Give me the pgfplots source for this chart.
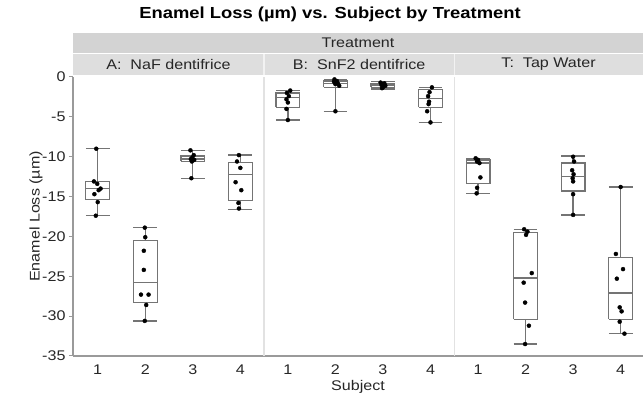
\documentclass[border=0pt]{standalone}
\usepackage{fontspec}
\setmainfont[FakeStretch=1.15]{Liberation Sans}
\usepackage{pgfplots}
\pgfplotsset{compat=1.18}
\definecolor{boxgray}{HTML}{747474}
\definecolor{axgray}{HTML}{9A9A9A}
\definecolor{sepgray}{HTML}{E2E2E2}
\definecolor{stripA}{HTML}{D3D3D3}
\definecolor{stripB}{HTML}{DEDEDE}
\definecolor{txt}{HTML}{262626}
\begin{document}
\begin{tikzpicture}
\useasboundingbox (-73pt,-40pt) rectangle (570pt,356pt);
\begin{axis}[at={(0pt,0pt)}, anchor=south west, scale only axis,
  width=570pt, height=279pt,
  xmin=0.48, xmax=12.47, ymin=-35, ymax=0,
  axis x line*=bottom, axis y line*=left,
  x axis line style={draw=axgray, line width=1.8pt, -},
  y axis line style={draw=axgray, line width=1.2pt, -},
  xtick={1,...,12}, xticklabels={1,2,3,4,1,2,3,4,1,2,3,4},
  ytick={-35,-30,-25,-20,-15,-10,-5,0},
  yticklabels={-35,-30,-25,-20,-15,-10,-5,0},
  x tick style={draw=none},
  y tick style={draw=axgray, line width=1pt},
  tick align=outside, major tick length=4pt,
  tick label style={font=\fontsize{14}{15}\selectfont, text=txt},
  xticklabel style={yshift=-1pt},
  clip=false, unbounded coords=jump,
  every axis plot/.append style={line join=miter},
]
\draw[sepgray, line width=1.5pt] (axis cs:4.5,-35) -- (axis cs:4.5,0);
\draw[sepgray, line width=1.5pt] (axis cs:8.5,-35) -- (axis cs:8.5,0);

% boxes: box, median, upper whisker + cap, lower whisker + cap
% A1: lw -17.4, lq -15.4, med -14.0, uq -13.1, uw -9.0
\addplot[boxgray, line width=1.25pt] coordinates {(0.75,-15.4)(1.25,-15.4)(1.25,-13.1)(0.75,-13.1)(0.75,-15.4) (nan,nan) (0.75,-14.0)(1.25,-14.0) (nan,nan) (1,-13.1)(1,-9.0) (nan,nan) (0.75,-9.0)(1.25,-9.0) (nan,nan) (1,-15.4)(1,-17.4) (nan,nan) (0.75,-17.4)(1.25,-17.4)};
% A2: lw -30.6, lq -28.3, med -25.8, uq -20.5, uw -18.9
\addplot[boxgray, line width=1.25pt] coordinates {(1.75,-28.3)(2.25,-28.3)(2.25,-20.5)(1.75,-20.5)(1.75,-28.3) (nan,nan) (1.75,-25.8)(2.25,-25.8) (nan,nan) (2,-20.5)(2,-18.9) (nan,nan) (1.75,-18.9)(2.25,-18.9) (nan,nan) (2,-28.3)(2,-30.6) (nan,nan) (1.75,-30.6)(2.25,-30.6)};
% A3: lw -12.7, lq -10.6, med -10.3, uq -9.9, uw -9.2
\addplot[boxgray, line width=1.25pt] coordinates {(2.75,-10.6)(3.25,-10.6)(3.25,-9.9)(2.75,-9.9)(2.75,-10.6) (nan,nan) (2.75,-10.3)(3.25,-10.3) (nan,nan) (3,-9.9)(3,-9.2) (nan,nan) (2.75,-9.2)(3.25,-9.2) (nan,nan) (3,-10.6)(3,-12.7) (nan,nan) (2.75,-12.7)(3.25,-12.7)};
% A4: lw -16.6, lq -15.5, med -12.2, uq -10.7, uw -9.8
\addplot[boxgray, line width=1.25pt] coordinates {(3.75,-15.5)(4.25,-15.5)(4.25,-10.7)(3.75,-10.7)(3.75,-15.5) (nan,nan) (3.75,-12.2)(4.25,-12.2) (nan,nan) (4,-10.7)(4,-9.8) (nan,nan) (3.75,-9.8)(4.25,-9.8) (nan,nan) (4,-15.5)(4,-16.6) (nan,nan) (3.75,-16.6)(4.25,-16.6)};
% B1: lw -5.4, lq -3.8, med -2.6, uq -2.0, uw -1.7
\addplot[boxgray, line width=1.25pt] coordinates {(4.75,-3.8)(5.25,-3.8)(5.25,-2.0)(4.75,-2.0)(4.75,-3.8) (nan,nan) (4.75,-2.6)(5.25,-2.6) (nan,nan) (5,-2.0)(5,-1.7) (nan,nan) (4.75,-1.7)(5.25,-1.7) (nan,nan) (5,-3.8)(5,-5.4) (nan,nan) (4.75,-5.4)(5.25,-5.4)};
% B2: lw -4.3, lq -1.3, med -0.8, uq -0.5, uw -0.3
\addplot[boxgray, line width=1.25pt] coordinates {(5.75,-1.3)(6.25,-1.3)(6.25,-0.5)(5.75,-0.5)(5.75,-1.3) (nan,nan) (5.75,-0.8)(6.25,-0.8) (nan,nan) (6,-0.5)(6,-0.3) (nan,nan) (5.75,-0.3)(6.25,-0.3) (nan,nan) (6,-1.3)(6,-4.3) (nan,nan) (5.75,-4.3)(6.25,-4.3)};
% B3: lw -1.5, lq -1.3, med -1.0, uq -0.8, uw -0.6
\addplot[boxgray, line width=1.25pt] coordinates {(6.75,-1.3)(7.25,-1.3)(7.25,-0.8)(6.75,-0.8)(6.75,-1.3) (nan,nan) (6.75,-1.0)(7.25,-1.0) (nan,nan) (7,-0.8)(7,-0.6) (nan,nan) (6.75,-0.6)(7.25,-0.6) (nan,nan) (7,-1.3)(7,-1.5) (nan,nan) (6.75,-1.5)(7.25,-1.5)};
% B4: lw -5.7, lq -3.8, med -2.7, uq -1.6, uw -1.3
\addplot[boxgray, line width=1.25pt] coordinates {(7.75,-3.8)(8.25,-3.8)(8.25,-1.6)(7.75,-1.6)(7.75,-3.8) (nan,nan) (7.75,-2.7)(8.25,-2.7) (nan,nan) (8,-1.6)(8,-1.3) (nan,nan) (7.75,-1.3)(8.25,-1.3) (nan,nan) (8,-3.8)(8,-5.7) (nan,nan) (7.75,-5.7)(8.25,-5.7)};
% T1: lw -14.6, lq -13.4, med -10.8, uq -10.4, uw -10.2
\addplot[boxgray, line width=1.25pt] coordinates {(8.75,-13.4)(9.25,-13.4)(9.25,-10.4)(8.75,-10.4)(8.75,-13.4) (nan,nan) (8.75,-10.8)(9.25,-10.8) (nan,nan) (9,-10.4)(9,-10.2) (nan,nan) (8.75,-10.2)(9.25,-10.2) (nan,nan) (9,-13.4)(9,-14.6) (nan,nan) (8.75,-14.6)(9.25,-14.6)};
% T2: lw -33.5, lq -30.4, med -25.2, uq -19.5, uw -19.1
\addplot[boxgray, line width=1.25pt] coordinates {(9.75,-30.4)(10.25,-30.4)(10.25,-19.5)(9.75,-19.5)(9.75,-30.4) (nan,nan) (9.75,-25.2)(10.25,-25.2) (nan,nan) (10,-19.5)(10,-19.1) (nan,nan) (9.75,-19.1)(10.25,-19.1) (nan,nan) (10,-30.4)(10,-33.5) (nan,nan) (9.75,-33.5)(10.25,-33.5)};
% T3: lw -17.3, lq -14.3, med -12.5, uq -10.8, uw -9.9
\addplot[boxgray, line width=1.25pt] coordinates {(10.75,-14.3)(11.25,-14.3)(11.25,-10.8)(10.75,-10.8)(10.75,-14.3) (nan,nan) (10.75,-12.5)(11.25,-12.5) (nan,nan) (11,-10.8)(11,-9.9) (nan,nan) (10.75,-9.9)(11.25,-9.9) (nan,nan) (11,-14.3)(11,-17.3) (nan,nan) (10.75,-17.3)(11.25,-17.3)};
% T4: lw -32.2, lq -30.4, med -27.1, uq -22.6, uw -13.8
\addplot[boxgray, line width=1.25pt] coordinates {(11.75,-30.4)(12.25,-30.4)(12.25,-22.6)(11.75,-22.6)(11.75,-30.4) (nan,nan) (11.75,-27.1)(12.25,-27.1) (nan,nan) (12,-22.6)(12,-13.8) (nan,nan) (11.75,-13.8)(12.25,-13.8) (nan,nan) (12,-30.4)(12,-32.2) (nan,nan) (11.75,-32.2)(12.25,-32.2)};

% individual points
\addplot[only marks, mark=*, mark size=2pt, black] coordinates {
 (0.97,-9.0) (0.92,-13.1) (0.99,-13.4) (1.06,-14.0) (1.02,-14.2) (0.93,-14.7) (1.00,-15.7) (0.96,-17.4)
 (1.99,-18.9) (2.00,-20.1) (1.97,-21.8) (1.97,-24.2) (1.91,-27.3) (2.07,-27.3) (2.02,-28.6) (1.99,-30.6)
 (2.95,-9.2) (3.02,-9.8) (2.99,-10.1) (2.96,-10.3) (3.03,-10.4) (2.98,-10.6) (2.97,-12.7)
 (3.97,-9.8) (3.93,-10.6) (4.00,-11.4) (3.90,-13.2) (4.02,-14.2) (3.96,-15.8) (3.97,-16.5)
 (5.05,-1.7) (4.98,-2.0) (5.02,-2.4) (4.97,-2.8) (5.00,-3.2) (4.97,-4.0) (5.00,-5.4)
 (5.98,-0.3) (6.03,-0.5) (5.97,-0.6) (6.05,-0.8) (6.00,-0.9) (6.08,-1.1) (6.00,-4.3)
 (6.95,-0.7) (7.03,-0.8) (7.00,-0.9) (6.97,-1.0) (7.05,-1.1) (7.00,-1.3) (6.98,-1.4)
 (8.03,-1.3) (7.98,-1.9) (7.95,-2.4) (7.97,-3.1) (7.96,-3.4) (7.93,-4.3) (8.00,-5.7)
 (8.95,-10.2) (9.00,-10.4) (8.98,-10.6) (9.03,-10.8) (9.05,-12.6) (8.98,-13.9) (8.97,-14.6)
 (9.97,-19.1) (10.04,-19.4) (10.01,-19.8) (10.13,-24.6) (9.96,-25.8) (9.99,-28.3) (10.07,-31.2) (9.99,-33.5)
 (11.00,-10.0) (11.02,-10.6) (10.98,-11.7) (11.01,-12.2) (10.99,-12.7) (11.00,-13.1) (11.00,-14.7) (11.00,-17.3)
 (12.00,-13.8) (11.90,-22.2) (12.05,-24.1) (11.92,-25.3) (11.98,-28.9) (12.02,-29.4) (11.98,-30.7) (12.08,-32.2)
};
\end{axis}
% strips
\fill[stripA] (0pt,303pt) rectangle (570pt,323pt);
\fill[stripB] (0pt,281pt) rectangle (570pt,302pt);
\draw[white!60!stripB, line width=1.5pt] (191.1pt,281pt) -- (191.1pt,302pt);
\draw[white!60!stripB, line width=1.5pt] (381.3pt,281pt) -- (381.3pt,302pt);
\node[font=\fontsize{14}{15}\selectfont, text=txt] at (285pt,313pt) {Treatment};
\node[font=\fontsize{14}{15}\selectfont, text=txt] at (95.5pt,291.5pt) {A:\ \ NaF dentifrice};
\node[font=\fontsize{14}{15}\selectfont, text=txt] at (286.2pt,291.5pt) {B:\ \ SnF2 dentifrice};
\node[font=\fontsize{14}{15}\selectfont, text=txt] at (475.6pt,291.5pt) {T:\ \ Tap Water};
\node[font=\fontsize{16}{17}\selectfont\bfseries, text=black] at (257pt,342pt) {Enamel Loss (µm) vs. Subject by Treatment};
\node[font=\fontsize{14}{15}\selectfont, text=txt, rotate=90] at (-37pt,139.5pt) {Enamel Loss (µm)};
\node[font=\fontsize{14}{15}\selectfont, text=txt] at (285pt,-31pt) {Subject};
\end{tikzpicture}
\end{document}
